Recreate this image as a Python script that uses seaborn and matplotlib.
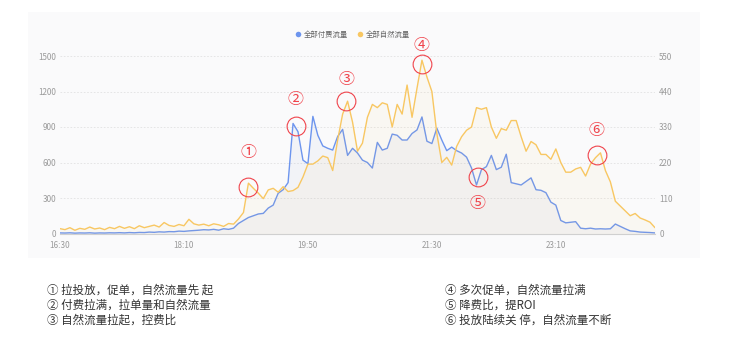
import matplotlib
matplotlib.use("Agg")
import matplotlib.pyplot as plt
from matplotlib.lines import Line2D
from matplotlib.patches import Rectangle
import seaborn as sns
import pandas as pd

# ---------------- data ----------------
minutes = list(range(0, 481, 4))  # minutes after 16:30
paid = [5, 4, 6, 3, 5, 4, 6, 3, 5, 4,
        6, 5, 7, 5, 8, 6, 9, 8, 12, 10,
        14, 12, 16, 15, 20, 18, 22, 25, 28, 32,
        30, 35, 28, 40, 35, 45, 85, 110, 135, 150,
        165, 170, 215, 240, 340, 370, 430, 930, 860, 620,
        590, 990, 830, 740, 720, 705, 820, 880, 660, 720,
        680, 620, 600, 553, 770, 705, 720, 840, 830, 790,
        790, 845, 875, 985, 780, 760, 890, 790, 700, 730,
        700, 680, 645, 553, 410, 540, 565, 660, 540, 560,
        670, 430, 420, 410, 440, 470, 370, 365, 345, 265,
        240, 110, 90, 95, 100, 45, 40, 45, 38, 40,
        38, 40, 80, 60, 40, 22, 18, 12, 10, 8,
        5]
natural = [15, 12, 18, 10, 16, 13, 20, 14, 17, 12,
           19, 15, 22, 16, 21, 15, 24, 18, 22, 26,
           20, 34, 25, 22, 28, 24, 44, 30, 26, 29,
           24, 30, 27, 22, 31, 29, 45, 65, 156, 140,
           125, 108, 135, 140, 128, 145, 130, 133, 143, 175,
           215, 215, 225, 240, 235, 195, 290, 370, 410, 345,
           255, 280, 360, 400, 390, 405, 400, 330, 400, 370,
           460, 360, 450, 537, 485, 440, 310, 220, 236, 212,
           270, 300, 320, 330, 390, 385, 390, 330, 295, 325,
           320, 350, 350, 300, 255, 285, 275, 245, 245, 230,
           262, 220, 190, 190, 200, 205, 178, 215, 235, 250,
           195, 160, 100, 85, 70, 55, 62, 48, 42, 35,
           18]
series_names = ["全部付费流量", "全部自然流量"]
x_tick_minutes = [0, 100, 200, 300, 400]
x_tick_labels = ["16:30", "18:10", "19:50", "21:30", "23:10"]
left_ticks = [0, 300, 600, 900, 1200, 1500]
right_ticks = [0, 110, 220, 330, 440, 550]
mark_labels = ["①", "②", "③", "④", "⑤", "⑥"]
mark_minutes = [152, 190, 231, 292, 337, 433]
mark_values = [393, 908, 1120, 1432, 477, 663]
notes_left = ["① 拉投放，促单，自然流量先 起",
              "② 付费拉满，拉单量和自然流量",
              "③ 自然流量拉起，控费比"]
notes_right = ["④ 多次促单，自然流量拉满",
               "⑤ 降费比，提ROI",
               "⑥ 投放陆续关 停，自然流量不断"]

df = pd.DataFrame({"minute": minutes, "paid": paid, "natural": natural})

# ---------------- style ----------------
sns.set_style("white")
plt.rcParams["font.family"] = ["Noto Sans CJK SC", "DejaVu Sans"]

BLUE = "#6D95EE"
ORANGE = "#F8C762"
RED = "#F0444C"
W, H = 729, 343

fig = plt.figure(figsize=(W / 100, H / 100), dpi=100)
fig.patch.set_facecolor("white")
fig.patches.append(Rectangle((28 / W, 1 - 258 / H), (700 - 28) / W, (258 - 12) / H,
                             transform=fig.transFigure, facecolor="#fafafb",
                             edgecolor="none", zorder=-5))

ax = fig.add_axes([60 / W, 109.5 / H, 595 / W, 177.5 / H])
ax.set_facecolor("none")
ax2 = ax.twinx()
ax2.set_facecolor("none")

sns.lineplot(data=df, x="minute", y="paid", ax=ax, color=BLUE, lw=1.0, zorder=3)
ax.fill_between(df["minute"], df["paid"], color="#8a9cd0", alpha=0.07, lw=0, zorder=2)
sns.lineplot(data=df, x="minute", y="natural", ax=ax2, color=ORANGE, lw=1.0, zorder=3)
ax2.fill_between(df["minute"], df["natural"], color=ORANGE, alpha=0.06, lw=0, zorder=2)

ax.set_xlim(0, 480)
ax.set_ylim(0, 1500)
ax2.set_ylim(0, 550)
ax.set_yticks(left_ticks)
ax2.set_yticks(right_ticks)
ax.set_xticks(x_tick_minutes)
ax.set_xticklabels(x_tick_labels)
for a in (ax, ax2):
    a.set_xlabel("")
    a.set_ylabel("")
    for s in a.spines.values():
        s.set_visible(False)
ax.spines["bottom"].set_visible(True)
ax.spines["bottom"].set_color("#d0d0d0")
ax.spines["bottom"].set_linewidth(0.8)
ax.tick_params(axis="x", length=3.5, color="#d0d0d0", labelsize=5.8, labelcolor="#9a9a9a", pad=2)
ax.tick_params(axis="y", length=0, labelsize=5.8, labelcolor="#9a9a9a", pad=3)
ax2.tick_params(axis="y", length=0, labelsize=5.8, labelcolor="#9a9a9a", pad=3)
ax.yaxis.grid(True, linestyle=(0, (2, 2)), color="#e2e2e2", lw=0.6)
ax.set_axisbelow(True)

# annotations
label_offsets_px = [34, 27, 21, 19, -26, 25]
for lab, m, v, off in zip(mark_labels, mark_minutes, mark_values, label_offsets_px):
    ax2.plot([m], [v * 550 / 1500], marker="o", ms=13.5, mfc="none", mec=RED,
             mew=0.8, clip_on=False, zorder=6)
    ax2.annotate(lab, xy=(m, v * 550 / 1500), xytext=(0, off * 0.72),
                 textcoords="offset points", ha="center", va="center",
                 fontsize=11.5, color=RED, annotation_clip=False, zorder=6)

# legend
handles = [Line2D([], [], marker="o", color="none", markerfacecolor=c,
                  markeredgecolor="none", markersize=4) for c in (BLUE, ORANGE)]
fig.legend(handles, series_names, loc="center", bbox_to_anchor=(352 / W, 1 - 35 / H),
           ncol=2, frameon=False, fontsize=5.3, handletextpad=0.2, columnspacing=1.0,
           handlelength=1.2, labelcolor="#666666")

# notes
for i, t in enumerate(notes_left):
    fig.text(47 / W, 1 - (290 + 15 * i) / H, t, fontsize=8.3, color="#333333", va="center")
for i, t in enumerate(notes_right):
    fig.text(445 / W, 1 - (290 + 15 * i) / H, t, fontsize=8.3, color="#333333", va="center")

fig.savefig("out.png", dpi=100, facecolor="white")
